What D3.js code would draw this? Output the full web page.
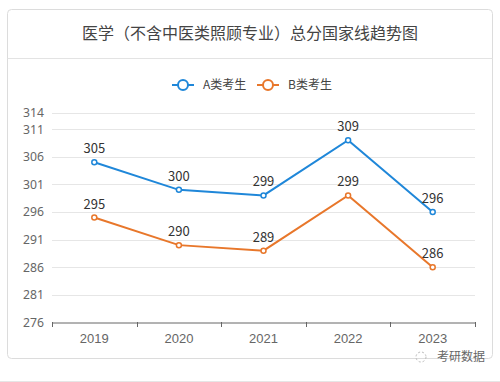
<!DOCTYPE html>
<html><head><meta charset="utf-8">
<script src="https://cdn.jsdelivr.net/npm/d3@7/dist/d3.min.js"></script>
<style>
html,body{margin:0;padding:0;background:#fff;}
svg{display:block;font-family:"Microsoft YaHei","Noto Sans CJK SC","Noto Sans",sans-serif;}
</style></head>
<body><svg id="c" width="500" height="382"></svg>
<script>
const title = "医学（不含中医类照顾专业）总分国家线趋势图";
const years = ["2019","2020","2021","2022","2023"];
const seriesNames = ["A类考生","B类考生"];
const seriesA = [305,300,299,309,296];
const seriesB = [295,290,289,299,286];
const yTicks = [276,281,286,291,296,301,306,311,314];
const colors = ["#1f87d9","#e8772b"];

const svg = d3.select("#c");
// card
svg.append("rect").attr("x",7.5).attr("y",9.5).attr("width",485).attr("height",349)
  .attr("rx",4).attr("fill","#fff").attr("stroke","#dcdcdc");
svg.append("line").attr("x1",7.5).attr("x2",492.5).attr("y1",58.5).attr("y2",58.5).attr("stroke","#e3e3e3");
svg.append("line").attr("x1",0).attr("x2",500).attr("y1",381.5).attr("y2",381.5).attr("stroke","#e6e6e6");
svg.append("text").attr("x",250).attr("y",39).attr("text-anchor","middle")
  .attr("font-size",16).attr("fill","#444").text(title);

const x = d3.scaleBand().domain(years).range([52,475]);
const y = d3.scaleLinear().domain([276,314]).range([322.5,112.5]);

// grid
svg.append("g").selectAll("line").data(yTicks.filter(d=>d!==276)).join("line")
  .attr("x1",52).attr("x2",475).attr("y1",d=>Math.round(y(d))+0.5).attr("y2",d=>Math.round(y(d))+0.5)
  .attr("stroke","#e6e6e6");
// y labels
svg.append("g").selectAll("text").data(yTicks).join("text")
  .attr("x",44).attr("y",d=>y(d)+4.5).attr("text-anchor","end")
  .attr("font-family","'Noto Sans',sans-serif")
  .attr("font-size",12.2).attr("fill","#666").text(d=>d);

// x axis
const xa = svg.append("g").attr("transform","translate(0,322.5)")
  .call(d3.axisBottom(x).tickSize(0).tickPadding(11));
xa.select(".domain").attr("stroke","#666");
xa.selectAll("text").attr("font-size",13).attr("fill","#666").attr("font-family","inherit");
const bounds = years.map(d=>x(d)).concat([475]);
svg.append("g").selectAll("line").data(bounds).join("line")
  .attr("x1",d=>Math.round(d)+0.5).attr("x2",d=>Math.round(d)+0.5).attr("y1",322).attr("y2",327).attr("stroke","#666");

const cx = d=>x(d)+x.bandwidth()/2;
const line = d3.line().x((d,i)=>cx(years[i])).y(d=>y(d));
[seriesA,seriesB].forEach((s,k)=>{
  const g = svg.append("g");
  g.append("path").datum(s).attr("d",line).attr("fill","none").attr("stroke",colors[k]).attr("stroke-width",2);
  g.selectAll("circle").data(s).join("circle").attr("cx",(d,i)=>cx(years[i])).attr("cy",d=>y(d)).attr("r",2.5)
    .attr("fill","#fff").attr("stroke",colors[k]).attr("stroke-width",1.5);
  g.selectAll("text").data(s).join("text").attr("x",(d,i)=>cx(years[i])).attr("y",d=>y(d)-9)
    .attr("text-anchor","middle").attr("font-size",13).attr("fill","#333").text(d=>d);
});

// legend
const lg = svg.append("g");
const lx = [172,257];
seriesNames.forEach((n,k)=>{
  const g = lg.append("g").attr("transform",`translate(${lx[k]},85)`);
  g.append("line").attr("x1",0).attr("x2",22).attr("stroke",colors[k]).attr("stroke-width",2);
  g.append("circle").attr("cx",11).attr("cy",0).attr("r",5).attr("fill","#fff").attr("stroke",colors[k]).attr("stroke-width",2);
  g.append("text").attr("x",31).attr("y",4).attr("font-size",12).attr("fill","#444").text(n);
});

// watermark
svg.append("text").attr("x",485).attr("y",361).attr("text-anchor","end").attr("font-size",12)
  .attr("fill","#666").text("考研数据");
svg.append("circle").attr("cx",421).attr("cy",357).attr("r",5).attr("fill","none").attr("stroke","#bbb").attr("stroke-dasharray","2,2");
</script></body></html>
